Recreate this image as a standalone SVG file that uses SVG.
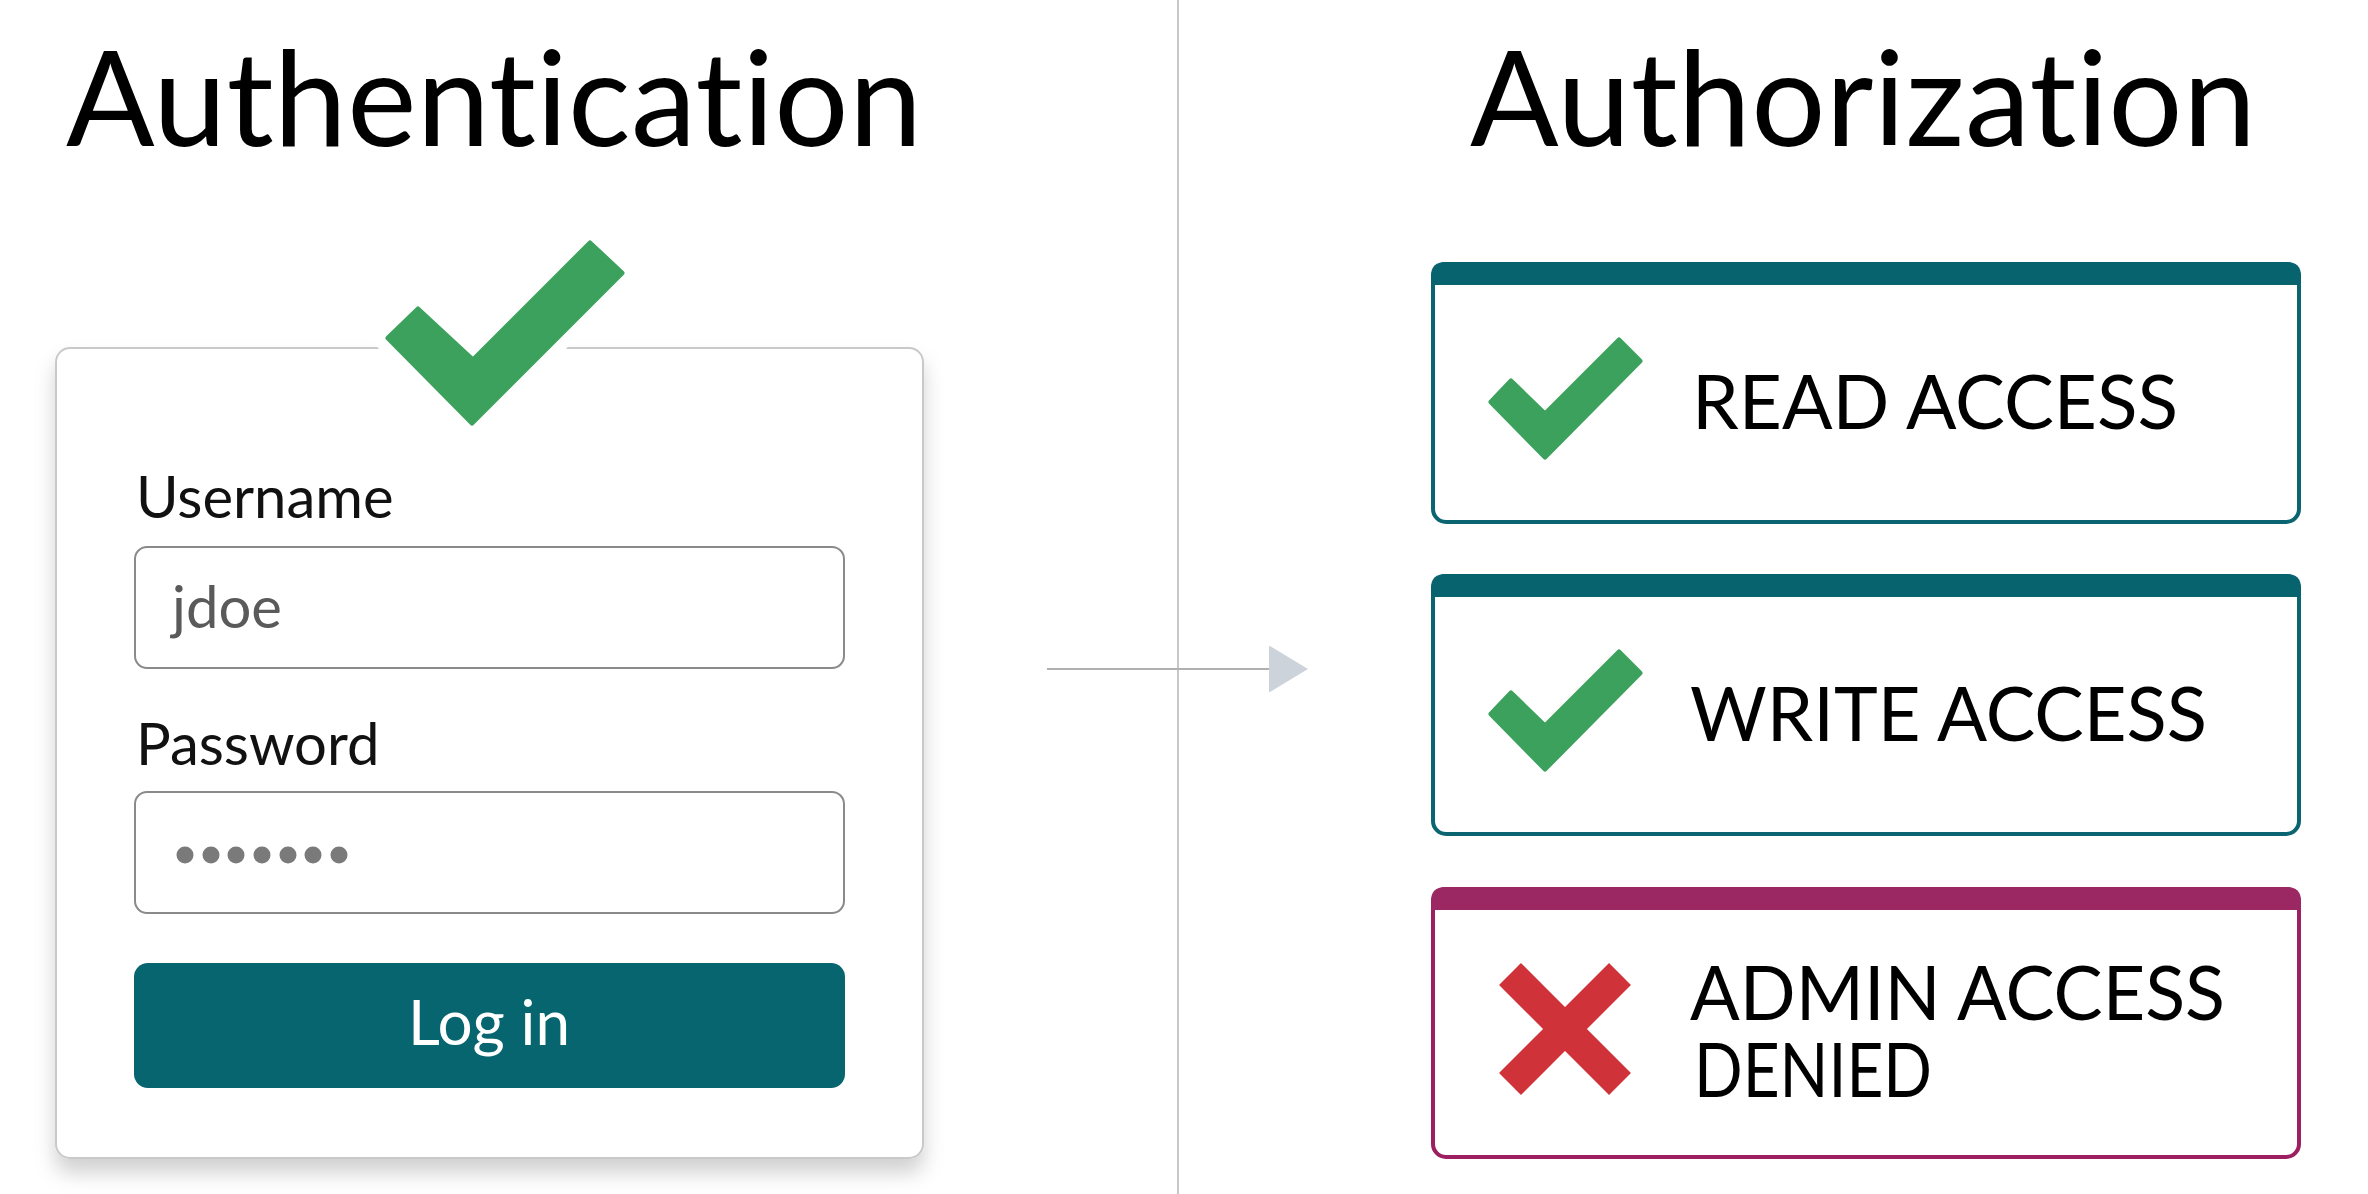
<svg xmlns="http://www.w3.org/2000/svg" width="2368" height="1194" viewBox="0 0 2368 1194">
<defs>
<style>
text{font-family:Lato,"Liberation Sans",sans-serif;font-variant-ligatures:none;font-feature-settings:"liga" 0;}
.title{font-size:131px;fill:#000;}
.label{font-size:58px;fill:#111;}
.field{fill:#fff;stroke:#8a8a8a;stroke-width:2;}
.perm{font-size:75px;fill:#000;}
.ok{fill:#3ba15c;stroke:#3ba15c;stroke-width:5;stroke-linejoin:round;}
.tealbox{fill:#fff;stroke:#0b6570;stroke-width:4;}
.tealhead{fill:#07636d;}
.magbox{fill:#fff;stroke:#9c1f62;stroke-width:4;}
.maghead{fill:#9b2862;}
</style>
<filter id="shadow" x="-10%" y="-10%" width="120%" height="130%">
<feDropShadow dx="0" dy="14" stdDeviation="10" flood-color="#000" flood-opacity="0.18"/>
</filter>
<marker id="arrow" markerWidth="39" markerHeight="47" refX="0" refY="23.5" orient="auto" markerUnits="userSpaceOnUse">
<polygon points="0,0 39,23.5 0,47" fill="#cdd3db"/>
</marker>
</defs>
<rect width="2368" height="1194" fill="#fff"/>
<line x1="1178" y1="0" x2="1178" y2="1194" stroke="#c8c8c8" stroke-width="2"/>

<text class="title" x="66" y="146" textLength="856">Authentication</text>
<text class="title" x="1470" y="146" textLength="786">Authorization</text>

<g id="login-card">
<rect x="56" y="348" width="867" height="810" rx="14" fill="#fff" stroke="#c9c9cc" stroke-width="2" filter="url(#shadow)"/>
<polygon points="388,338 418,309 473,360 590,243 622,273 472,423" fill="#fff" stroke="#fff" stroke-width="28" stroke-linejoin="round"/>
<polygon class="ok" points="388,338 418,309 473,360 590,243 622,273 472,423"/>
<text class="label" x="136" y="518">Username</text>
<rect class="field" x="135" y="547" width="709" height="121" rx="12"/>
<text x="172" y="628" font-size="58" fill="#5a5a5a">jdoe</text>
<text class="label" x="136" y="765">Password</text>
<rect class="field" x="135" y="792" width="709" height="121" rx="12"/>
<g fill="#7a7a7a">
<circle cx="185" cy="855" r="8.5"/><circle cx="211" cy="855" r="8.5"/><circle cx="236" cy="855" r="8.5"/><circle cx="262" cy="855" r="8.5"/><circle cx="288" cy="855" r="8.5"/><circle cx="313" cy="855" r="8.5"/><circle cx="339" cy="855" r="8.5"/>
</g>
<rect x="134" y="963" width="711" height="125" rx="14" fill="#06656e"/>
<text x="489" y="1045" font-size="62" fill="#fff" text-anchor="middle">Log in</text>
</g>

<g id="connectors">
<line x1="1047" y1="669" x2="1269" y2="669" stroke="#b0b0b0" stroke-width="2" marker-end="url(#arrow)"/>
</g>

<g id="read-access">
<rect class="tealbox" x="1433" y="264" width="866" height="258" rx="13"/>
<path class="tealhead" d="M1431,285 V276 Q1431,262 1445,262 H2287 Q2301,262 2301,276 V285 Z"/>
<polygon class="ok" points="1491,402 1511,381 1545,414 1619,340 1640,361 1545,457"/>
<text class="perm" x="1692" y="429" textLength="486" lengthAdjust="spacingAndGlyphs">READ ACCESS</text>
</g>

<g id="write-access">
<rect class="tealbox" x="1433" y="576" width="866" height="258" rx="13"/>
<path class="tealhead" d="M1431,597 V588 Q1431,574 1445,574 H2287 Q2301,574 2301,588 V597 Z"/>
<polygon class="ok" points="1491,714 1511,693 1545,726 1619,652 1640,673 1545,769"/>
<text class="perm" x="1690" y="741" textLength="517" lengthAdjust="spacingAndGlyphs">WRITE ACCESS</text>
</g>

<g id="admin-access">
<rect class="magbox" x="1433" y="889" width="866" height="268" rx="13"/>
<path class="maghead" d="M1431,910 V901 Q1431,887 1445,887 H2287 Q2301,887 2301,901 V910 Z"/>
<g stroke="#cf3238" stroke-width="31" stroke-linecap="butt">
<line x1="1510" y1="974" x2="1620" y2="1084"/>
<line x1="1620" y1="974" x2="1510" y2="1084"/>
</g>
<text class="perm" x="1690" y="1020" textLength="535" lengthAdjust="spacingAndGlyphs">ADMIN ACCESS</text>
<text class="perm" x="1694" y="1097" textLength="238" lengthAdjust="spacingAndGlyphs">DENIED</text>
</g>
</svg>
